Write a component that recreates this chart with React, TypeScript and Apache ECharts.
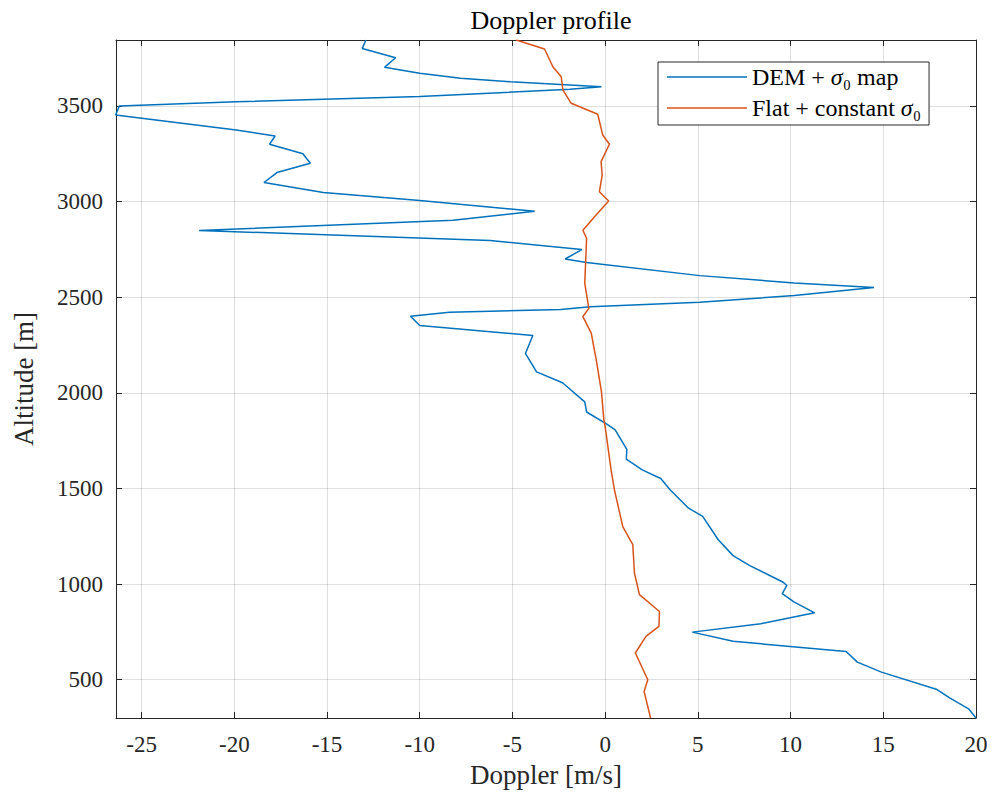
import React, { useEffect, useRef } from "react";
import * as echarts from "echarts";

// Blue: DEM + sigma0 map  (doppler [m/s], altitude [m])
const demDoppler = [
  -12.9, -13.1, -11.3, -11.9, -10.0, -7.8, -5.1, -0.2, -1.9, -10.0, -19.9, -26.2, -26.4,
  -19.9, -17.8, -18.1, -16.3, -15.9, -17.7, -18.4, -15.2, -10.0, -3.8, -8.2, -21.9, -6.2,
  -1.26, -2.16, -1.0, 5.1, 10.2, 14.5, 10.2, 5.1, -0.8, -2.4, -8.4, -10.5, -10.0, -3.9,
  -4.3, -3.7, -2.3, -1.1, -1.0, 0.09, 0.54, 1.17, 1.14, 2.0, 3.0, 3.5, 4.5, 5.26, 6.1,
  6.9, 7.8, 9.6, 9.8, 9.55, 10.2, 11.3, 8.4, 4.7, 6.9, 13.0, 13.6, 14.9, 17.9, 18.6, 19.6, 20.0,
];
const demAltitude = [
  3845, 3801, 3752, 3702, 3671, 3645, 3627, 3601, 3587, 3549, 3522, 3500, 3453,
  3375, 3343, 3300, 3250, 3201, 3152, 3100, 3048, 3006, 2949, 2902, 2849, 2797,
  2749, 2700, 2682, 2613, 2575, 2551, 2509, 2474, 2450, 2436, 2421, 2401, 2352, 2300,
  2206, 2110, 2053, 1953, 1900, 1836, 1806, 1705, 1653, 1597, 1552, 1493, 1397, 1354, 1232,
  1149, 1097, 1010, 993, 950, 906, 850, 793, 749, 701, 648, 592, 540, 449, 404, 348, 300,
];

// Orange: Flat + constant sigma0
const flatDoppler = [
  -4.8, -3.27, -2.82, -2.37, -2.28, -1.83, -0.4, -0.13, 0.23, -0.22, -0.16, -0.31, 0.19,
  -0.49, -1.2, -1.0, -1.1, -0.88, -1.2, -0.75, -0.48, -0.2, -0.07, 0.0, 0.32, 0.5, 0.95,
  1.49, 1.58, 1.85, 2.93, 2.9, 2.2, 1.63, 2.3, 2.1, 2.45,
];
const flatAltitude = [
  3845, 3798, 3705, 3653, 3584, 3514, 3457, 3348, 3300, 3209, 3139, 3052, 3003,
  2930, 2850, 2807, 2573, 2442, 2399, 2312, 2172, 2007, 1859, 1824, 1597, 1493, 1301,
  1206, 1058, 945, 857, 779, 727, 640, 500, 439, 300,
];

const xTicks = [-25, -20, -15, -10, -5, 0, 5, 10, 15, 20];
const yTicks = [500, 1000, 1500, 2000, 2500, 3000, 3500];

const FONT = "'Liberation Serif', 'DejaVu Serif', serif";
const AXIS_COLOR = "#262626";
const GRID_COLOR = "rgba(38,38,38,0.15)";

export default function App() {
  const ref = useRef<HTMLDivElement>(null);

  useEffect(() => {
    if (!ref.current) return;
    const chart = echarts.init(ref.current, null, { renderer: "svg" });

    const demData = demDoppler.map((d, i) => [d, demAltitude[i]]);
    const flatData = flatDoppler.map((d, i) => [d, flatAltitude[i]]);

    const xMin = -26.38;
    const xMax = 20;
    const yMin = 300;
    const yMax = 3845;

    const baseX = {
      type: "value" as const,
      min: xMin,
      max: xMax,
      axisLine: { show: true, onZero: false, lineStyle: { color: AXIS_COLOR, width: 1 } },
      axisTick: { show: true, inside: true, length: 6, customValues: xTicks, lineStyle: { color: AXIS_COLOR } },
    };
    const baseY = {
      type: "value" as const,
      min: yMin,
      max: yMax,
      axisLine: { show: true, onZero: false, lineStyle: { color: AXIS_COLOR, width: 1 } },
      axisTick: { show: true, inside: true, length: 6, customValues: yTicks, lineStyle: { color: AXIS_COLOR } },
    };

    chart.setOption({
      animation: false,
      backgroundColor: "#ffffff",
      title: {
        text: "Doppler profile",
        left: 546,
        top: 2,
        textAlign: "center",
        textStyle: { fontFamily: FONT, fontSize: 26, fontWeight: "normal", color: "#000" },
      },
      grid: { left: 116, right: 21, top: 40, bottom: 81, containLabel: false },
      legend: {
        orient: "vertical",
        left: 658,
        top: 62,
        padding: [3, 8, 5, 9],
        icon: "path://M0,0H80V1.5H0Z",
        itemWidth: 80,
        itemHeight: 14,
        itemGap: 7,
        borderColor: AXIS_COLOR,
        borderWidth: 1,
        borderRadius: 0,
        backgroundColor: "#fff",
        textStyle: {
          fontFamily: FONT,
          fontSize: 24,
          color: "#000",
          rich: {
            s: { fontFamily: FONT, fontSize: 24, fontStyle: "italic", color: "#000" },
            n: { fontFamily: FONT, fontSize: 24, color: "#000" },
          },
        },
        formatter: (name: string) => {
          if (name.startsWith("DEM")) return "{n|DEM + }{s|σ}{n|₀ map}";
          return "{n|Flat + constant }{s|σ}{n|₀}";
        },
        data: ["DEM + σ0 map", "Flat + constant σ0"],
      },
      xAxis: [
        {
          ...baseX,
          position: "bottom",
          name: "Doppler [m/s]",
          nameLocation: "middle",
          nameGap: 43,
          nameTextStyle: { fontFamily: FONT, fontSize: 27, color: "#262626" },
          axisLabel: {
            show: true,
            customValues: xTicks,
            margin: 15,
            fontFamily: FONT,
            fontSize: 23,
            color: "#262626",
            formatter: (v: number) => String(v),
          },
          splitLine: { show: true, lineStyle: { color: GRID_COLOR, width: 1 } },
        },
        {
          ...baseX,
          position: "top",
          axisLabel: { show: false },
          splitLine: { show: false },
        },
      ],
      yAxis: [
        {
          ...baseY,
          position: "left",
          name: "Altitude [m]",
          nameLocation: "middle",
          nameGap: 79,
          nameTextStyle: { fontFamily: FONT, fontSize: 27, color: "#262626" },
          axisLabel: {
            show: true,
            customValues: yTicks,
            margin: 13,
            fontFamily: FONT,
            fontSize: 23,
            color: "#262626",
            formatter: (v: number) => String(v),
          },
          splitLine: { show: true, lineStyle: { color: GRID_COLOR, width: 1 } },
        },
        {
          ...baseY,
          position: "right",
          axisLabel: { show: false },
          splitLine: { show: false },
        },
      ],
      series: [
        {
          name: "DEM + σ0 map",
          type: "line",
          xAxisIndex: 0,
          yAxisIndex: 0,
          data: demData,
          symbol: "none",
          lineStyle: { color: "#0072BD", width: 1.5 },
          itemStyle: { color: "#0072BD" },
          clip: true,
        },
        {
          name: "Flat + constant σ0",
          type: "line",
          xAxisIndex: 0,
          yAxisIndex: 0,
          data: flatData,
          symbol: "none",
          lineStyle: { color: "#D95319", width: 1.5 },
          itemStyle: { color: "#D95319" },
          clip: true,
        },
      ],
    });

    return () => chart.dispose();
  }, []);

  return (
    <div
      ref={ref}
      style={{ position: "fixed", left: 0, top: 0, width: 997, height: 799 }}
    />
  );
}
